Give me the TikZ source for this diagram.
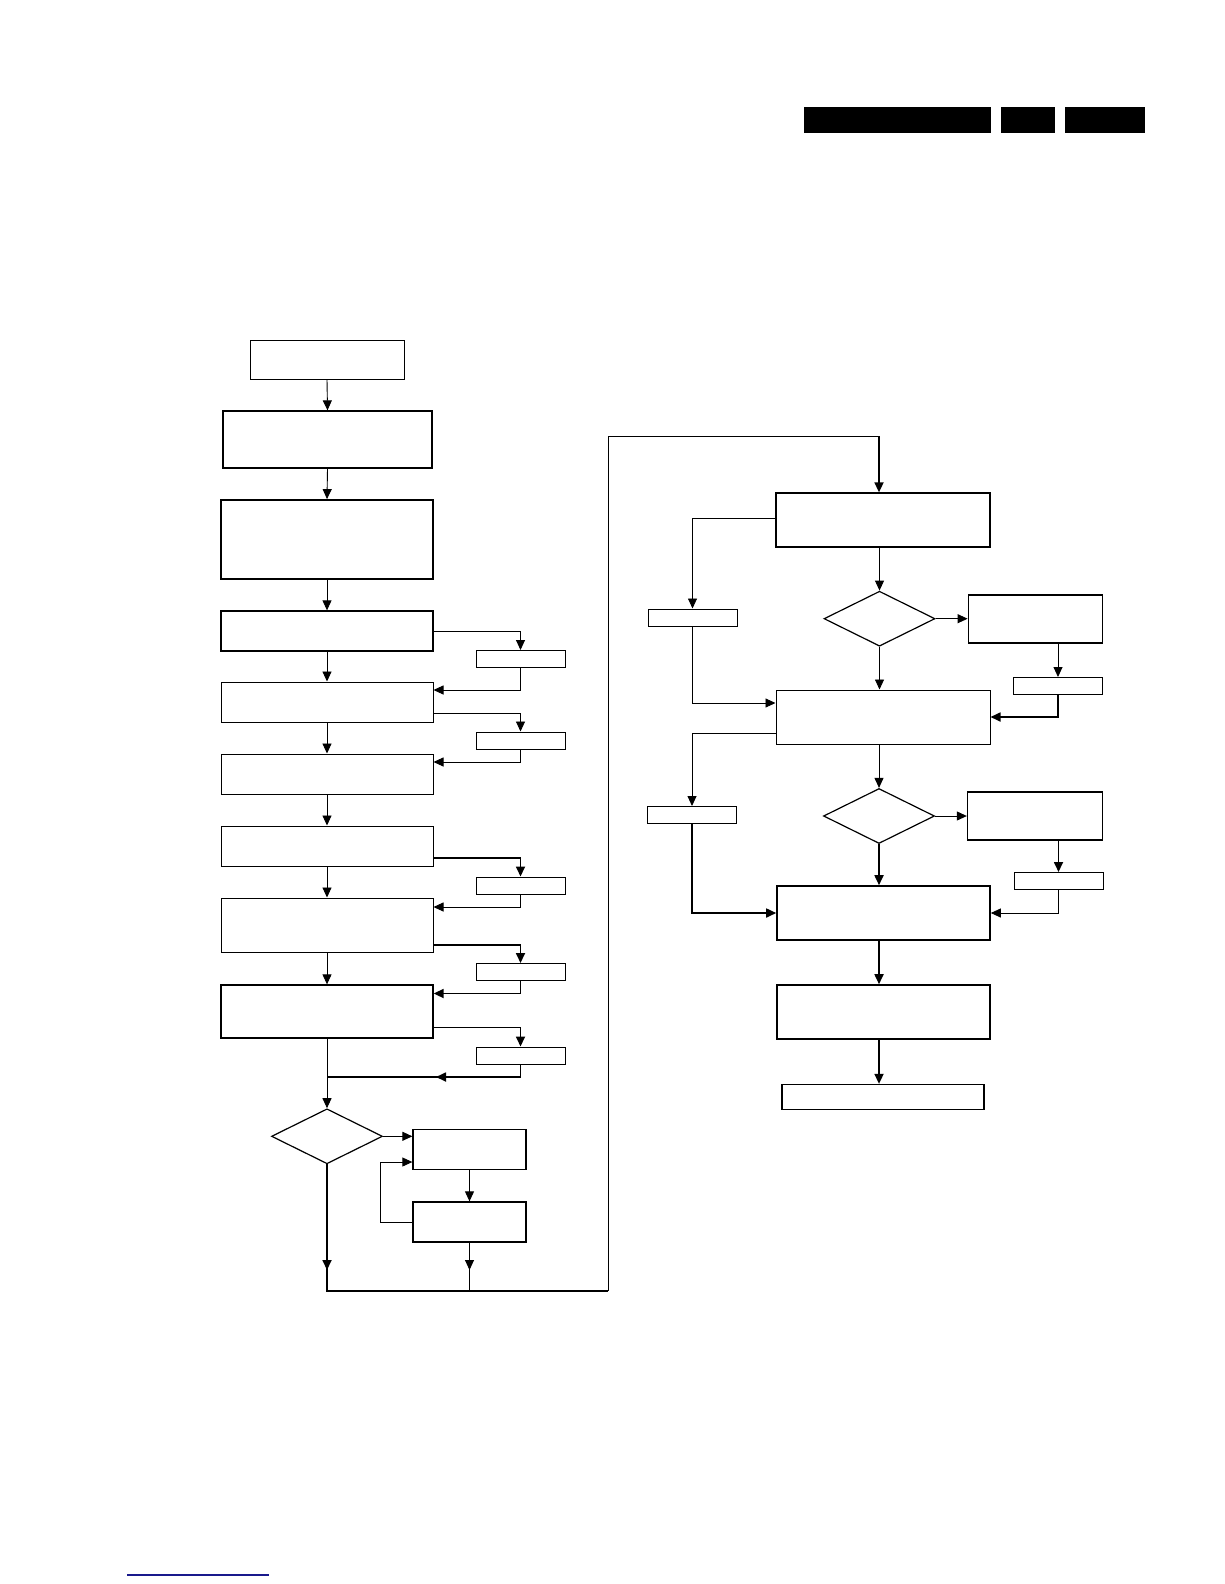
\documentclass[tikz,border=0pt]{standalone}
\usetikzlibrary{arrows.meta,shapes.geometric}
\definecolor{linkblue}{RGB}{25,25,140}
\begin{document}
\begin{tikzpicture}[x=1pt,y=-1pt,
  box/.style={draw, line width=1pt, inner sep=0pt},
  tag/.style={draw, line width=1pt, inner sep=0pt, minimum width=89pt, minimum height=17pt},
  dec/.style={draw, diamond, line width=1.2pt, inner sep=0pt, minimum width=111pt, minimum height=55pt},
  arr/.style={-{Triangle[length=10pt,width=9pt]}},
  thinline/.style={line width=0.9pt},
  boldline/.style={line width=1.7pt}]
\useasboundingbox (0,0) rectangle (1224,1584);
% header bars
\fill (804,107)  rectangle (991,133);
\fill (1001,107) rectangle (1055,133);
\fill (1065,107) rectangle (1145,133);
% left column
\node[box, minimum width=154pt, minimum height=39pt]                  (start) at (327,359.5)  {};
\node[box, minimum width=209pt, minimum height=57pt, line width=1.3pt] (init)  at (327.5,439.5) {};
\node[box, minimum width=212pt, minimum height=79pt, line width=1.8pt] (setup) at (327,539.5)  {};
\node[box, minimum width=212pt, minimum height=40pt, line width=1.3pt] (stepa) at (327,631)    {};
\node[box, minimum width=212pt, minimum height=40pt]                  (stepb) at (327,702)    {};
\node[box, minimum width=212pt, minimum height=40pt]                  (stepc) at (327,774)    {};
\node[box, minimum width=212pt, minimum height=40pt]                  (stepd) at (327,846)    {};
\node[box, minimum width=212pt, minimum height=54pt]                  (stepe) at (327,925)    {};
\node[box, minimum width=212pt, minimum height=53pt, line width=1.3pt] (stepf) at (327,1011.5) {};
% side tags
\node[tag] (taga) at (520.5,659)    {};
\node[tag] (tagb) at (520.5,740.5)  {};
\node[tag] (tagc) at (520.5,885.5)  {};
\node[tag] (tagd) at (520.5,972)    {};
\node[tag] (tage) at (520.5,1055.5) {};
% decision and loop
\node[dec] (deca) at (327,1136.3) {};
\node[box, minimum width=113pt, minimum height=39.5pt, line width=1.3pt] (loopa) at (469.5,1149.5) {};
\node[box, minimum width=113pt, minimum height=40pt, line width=1.3pt]   (loopb) at (469.5,1222)   {};
% right column
\node[box, minimum width=214pt, minimum height=54pt, line width=1.3pt]   (check)  at (883,520)    {};
\node[tag] (tagf) at (692.5,617.5) {};
\node[dec] (decb) at (879.5,618.7) {};
\node[box, minimum width=134.5pt, minimum height=48pt, line width=1.3pt] (fixa)   at (1035.5,619) {};
\node[tag] (tagg) at (1058,686) {};
\node[box, minimum width=214pt, minimum height=54pt]                    (adjust) at (883,717)    {};
\node[tag] (tagh) at (692,815) {};
\node[dec] (decc) at (879,816) {};
\node[box, minimum width=135pt, minimum height=48pt, line width=1.3pt]   (fixb)   at (1035,816)   {};
\node[tag] (tagi) at (1058.5,881) {};
\node[box, minimum width=213pt, minimum height=54pt, line width=1.6pt]   (store)  at (883.5,913)  {};
\node[box, minimum width=213pt, minimum height=54pt, line width=1.6pt]   (verify) at (883.5,1012) {};
\node[box, minimum width=202pt, minimum height=25pt, line width=1.3pt]   (finish) at (883,1097)   {};
% free ends
\coordinate (join)    at (327,1077);
\coordinate (jointip) at (436,1077);
\coordinate (bl)      at (327,1291);
\coordinate (bltip)   at (327,1270);
\coordinate (kbot)    at (469.5,1291);
\coordinate (ktip)    at (469.5,1270);
\coordinate (br)      at (608,1291);
\coordinate (tr)      at (608,436);
\coordinate (tl)      at (879,436);
% main left flow
\draw[thinline,arr] (start.south) -- (init.north);
\draw[thinline,arr] (init.south)  -- (setup.north);
\draw[thinline,arr] (setup.south) -- (stepa.north);
\draw[thinline,arr] (stepa.south) -- (stepb.north);
\draw[thinline,arr] (stepb.south) -- (stepc.north);
\draw[thinline,arr] (stepc.south) -- (stepd.north);
\draw[thinline,arr] (stepd.south) -- (stepe.north);
\draw[thinline,arr] (stepe.south) -- (stepf.north);
\draw[thinline,arr] (stepf.south) -- (deca.north);
% side branches
\draw[thinline,arr] (stepa.east) -| (taga.north);
\draw[thinline,arr] (taga.south) |- ([yshift=12pt]stepb.east);
\draw[thinline,arr] ([yshift=-11pt]stepb.east) -| (tagb.north);
\draw[thinline,arr] (tagb.south) |- ([yshift=12pt]stepc.east);
\draw[boldline,arr] ([yshift=-12pt]stepd.east) -| (tagc.north);
\draw[thinline,arr] (tagc.south) |- ([yshift=18pt]stepe.east);
\draw[boldline,arr] ([yshift=-20pt]stepe.east) -| (tagd.north);
\draw[boldline,arr] (tagd.south) |- ([yshift=18pt]stepf.east);
\draw[boldline,arr] ([yshift=-16pt]stepf.east) -| (tage.north);
\draw[boldline] (tage.south) |- (join);
\draw[boldline,arr] (tage.south) |- (jointip);
% loop
\draw[thinline,arr] (deca.east) -- (deca.east -| loopa.west);
\draw[thinline,arr] (loopa.south) -- (loopb.north);
\draw[thinline,arr] (loopb.west) -- ++(-32,0) |- ([yshift=-12.5pt]loopa.west);
% bottom return to right column
\draw[boldline] (deca.south) -- (bl) -- (br);
\draw[boldline,arr] (deca.south) -- (bltip);
\draw[thinline] (loopb.south) -- (kbot);
\draw[thinline,arr] (loopb.south) -- (ktip);
\draw[thinline] (br) -- (tr) -- (tl);
\draw[boldline,arr] (tl) -- (tl |- check.north);
% right flow
\draw[thinline,arr] ([yshift=2pt]check.west) -| (tagf.north);
\draw[thinline,arr] (tagf.south) |- ([yshift=14pt]adjust.west);
\draw[thinline,arr] (decb.north |- check.south) -- (decb.north);
\draw[thinline,arr] (decb.east) -- (decb.east -| fixa.west);
\draw[thinline,arr] (tagg.north |- fixa.south) -- (tagg.north);
\draw[boldline,arr] (tagg.south) |- (adjust.east);
\draw[thinline,arr] (decb.south) -- (decb.south |- adjust.north);
\draw[thinline,arr] ([yshift=-16pt]adjust.west) -| (tagh.north);
\draw[boldline,arr] (tagh.south) |- (store.west);
\draw[thinline,arr] (decc.north |- adjust.south) -- (decc.north);
\draw[thinline,arr] (decc.east) -- (decc.east -| fixb.west);
\draw[boldline,arr] (tagi.north |- fixb.south) -- (tagi.north);
\draw[thinline,arr] (tagi.south) |- (store.east);
\draw[boldline,arr] (decc.south) -- (decc.south |- store.north);
\draw[boldline,arr] (decc.south |- store.south) -- (decc.south |- verify.north);
\draw[boldline,arr] (decc.south |- verify.south) -- (decc.south |- finish.north);
% link line
\draw[linkblue, line width=1.2pt] (127,1575) -- (269,1575);
\end{tikzpicture}
\end{document}
